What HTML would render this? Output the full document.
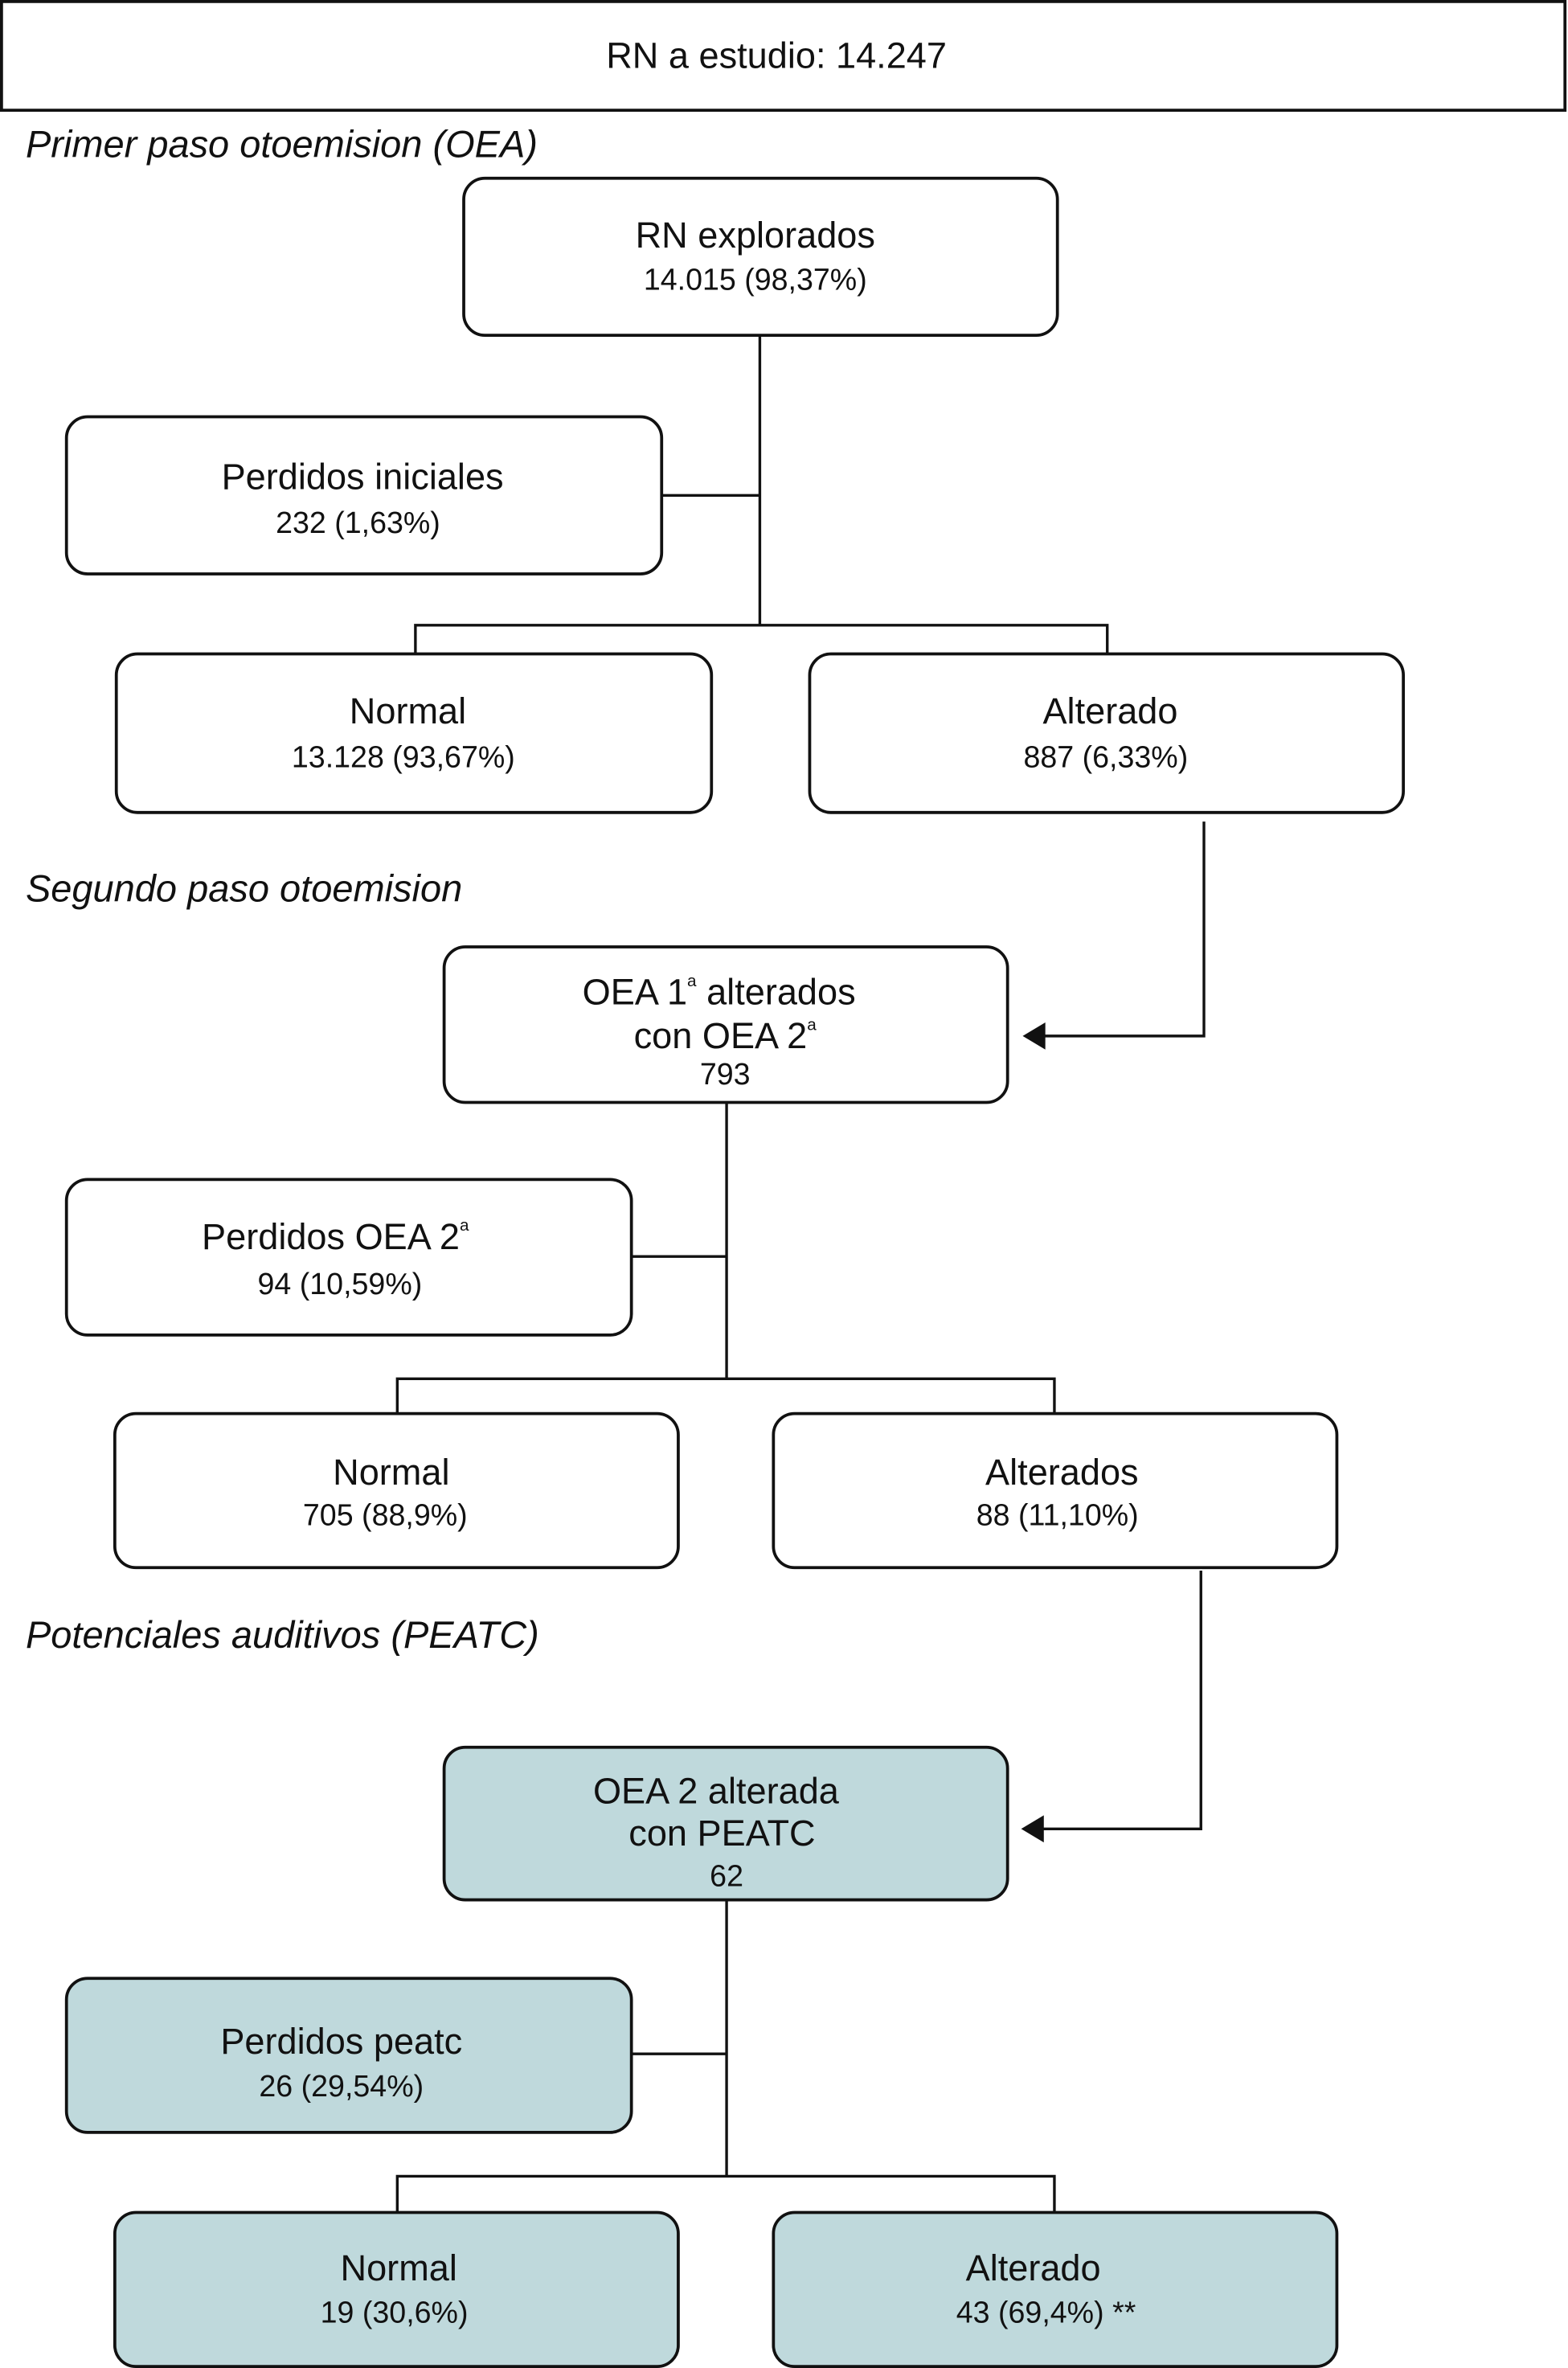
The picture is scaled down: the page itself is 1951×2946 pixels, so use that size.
<!DOCTYPE html>
<html><head><meta charset="utf-8"><style>
html,body{margin:0;padding:0;background:#fff;}
svg{display:block;}
text{font-family:"Liberation Sans",Arial,sans-serif;fill:#111;}
.t{font-size:24px;text-anchor:middle;}
.n{font-size:20px;text-anchor:middle;}
.i{font-size:25px;font-style:italic;}
.b{fill:#fff;stroke:#111;stroke-width:2;}
.g{fill:#bfd9dc;stroke:#111;stroke-width:2;}
.l{stroke:#111;stroke-width:1.8;fill:none;}
</style></head><body>
<svg width="1951" height="2946" viewBox="0 0 1038 1568" preserveAspectRatio="none" xmlns="http://www.w3.org/2000/svg">
<rect x="1" y="1" width="1035" height="72" fill="#fff" stroke="#111" stroke-width="2"/>
<text class="t" x="514" y="45">RN a estudio: 14.247</text>
<text class="i" x="17" y="104">Primer paso otoemision (OEA)</text>

<rect class="b" x="307" y="118" width="393" height="104" rx="14"/>
<text class="t" x="500" y="164">RN explorados</text>
<text class="n" x="500" y="192">14.015 (98,37%)</text>
<path class="l" d="M503 222V414M438 328H503M275 433V414H733V433"/>
<rect class="b" x="44" y="276" width="394" height="104" rx="14"/>
<text class="t" x="240" y="324">Perdidos iniciales</text>
<text class="n" x="237" y="353">232 (1,63%)</text>
<rect class="b" x="77" y="433" width="394" height="105" rx="14"/>
<text class="t" x="270" y="479">Normal</text>
<text class="n" x="267" y="508">13.128 (93,67%)</text>
<rect class="b" x="536" y="433" width="393" height="105" rx="14"/>
<text class="t" x="735" y="479">Alterado</text>
<text class="n" x="732" y="508">887 (6,33%)</text>
<path class="l" d="M797 544V686H690"/>
<path d="M677 686L692 677V695Z" fill="#111"/>

<text class="i" x="17" y="597">Segundo paso otoemision</text>
<rect class="b" x="294" y="627" width="373" height="103" rx="14"/>
<text class="t" x="476" y="665">OEA 1<tspan font-size="11" dy="-12">a</tspan><tspan dy="12"> alterados</tspan></text>
<text class="t" x="480" y="694">con OEA 2<tspan font-size="11" dy="-12">a</tspan></text>
<text class="n" x="480" y="718">793</text>
<path class="l" d="M481 730V913M418 832H481M263 936V913H698V936"/>
<rect class="b" x="44" y="781" width="374" height="103" rx="14"/>
<text class="t" x="222" y="827">Perdidos OEA 2<tspan font-size="11" dy="-12">a</tspan></text>
<text class="n" x="225" y="857">94 (10,59%)</text>
<rect class="b" x="76" y="936" width="373" height="102" rx="14"/>
<text class="t" x="259" y="983">Normal</text>
<text class="n" x="255" y="1010">705 (88,9%)</text>
<rect class="b" x="512" y="936" width="373" height="102" rx="14"/>
<text class="t" x="703" y="983">Alterados</text>
<text class="n" x="700" y="1010">88 (11,10%)</text>
<path class="l" d="M795 1040V1211H690"/>
<path d="M676 1211L691 1202V1220Z" fill="#111"/>

<text class="i" x="17" y="1091">Potenciales auditivos (PEATC)</text>
<rect class="g" x="294" y="1157" width="373" height="101" rx="14"/>
<text class="t" x="474" y="1194">OEA 2 alterada</text>
<text class="t" x="478" y="1222">con PEATC</text>
<text class="n" x="481" y="1249">62</text>
<path class="l" d="M481 1258V1441M418 1360H481M263 1465V1441H698V1465"/>
<rect class="g" x="44" y="1310" width="374" height="102" rx="14"/>
<text class="t" x="226" y="1360">Perdidos peatc</text>
<text class="n" x="226" y="1388">26 (29,54%)</text>
<rect class="g" x="76" y="1465" width="373" height="102" rx="14"/>
<text class="t" x="264" y="1510">Normal</text>
<text class="n" x="261" y="1538">19 (30,6%)</text>
<rect class="g" x="512" y="1465" width="373" height="102" rx="14"/>
<text class="t" x="684" y="1510">Alterado</text>
<text class="n" x="633" y="1538" style="text-anchor:start">43 (69,4%) **</text>
</svg>
</body></html>
